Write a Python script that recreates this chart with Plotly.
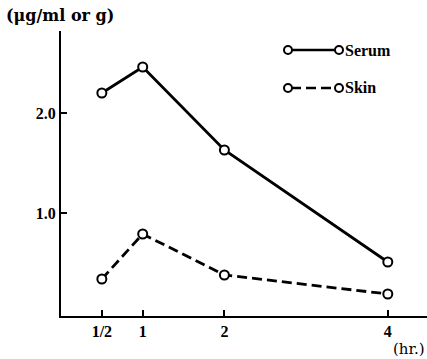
import plotly.graph_objects as go

hours = [0.5, 1, 2, 4]
serum = [2.20, 2.46, 1.63, 0.51]
skin = [0.34, 0.79, 0.38, 0.19]
x_tick_vals = [0.5, 1, 2, 4]
x_tick_text = ["1/2", "1", "2", "4"]
y_tick_vals = [1.0, 2.0, 2.82]
y_tick_text = ["1.0", "2.0", ""]

FONT = "Liberation Serif"
TFONT = "DejaVu Serif"
W, H = 427, 359
L, R, T, B = 61, 0, 31, 43
PW, PH = W - L - R, H - T - B

marker = dict(symbol="circle", size=9, color="white", line=dict(color="black", width=2))

fig = go.Figure()
fig.add_trace(go.Scatter(x=hours, y=serum, mode="lines+markers",
                         line=dict(color="black", width=2.8), marker=marker, showlegend=False))
fig.add_trace(go.Scatter(x=hours, y=skin, mode="lines+markers",
                         line=dict(color="black", width=2.8, dash="10px,5px"), marker=marker, showlegend=False))


def px_x(px):
    return (px - L) / PW


def px_y(py):
    return (H - B - py) / PH


# custom legend samples
for py, dash, label in [(50, "solid", "Serum"), (88, "10px,5px", "Skin")]:
    fig.add_shape(type="line", xref="paper", yref="paper", x0=px_x(291), x1=px_x(335),
                  y0=px_y(py), y1=px_y(py), line=dict(color="black", width=2.5, dash=dash))
    for cx in (288, 339):
        fig.add_shape(type="circle", xref="paper", yref="paper",
                      x0=px_x(cx - 4), x1=px_x(cx + 4), y0=px_y(py + 4), y1=px_y(py - 4),
                      fillcolor="white", line=dict(color="black", width=2))
    fig.add_annotation(xref="paper", yref="paper", x=px_x(343), y=px_y(py), text=label,
                       showarrow=False, xanchor="left", yanchor="middle",
                       font=dict(family=FONT, size=16, color="black", weight="bold"))

fig.add_annotation(xref="paper", yref="paper", x=px_x(4), y=px_y(15), text="(μg/ml or g)",
                   showarrow=False, xanchor="left", yanchor="middle",
                   font=dict(family=TFONT, size=16, color="black", weight="bold"))
fig.add_annotation(xref="paper", yref="paper", x=px_x(427), y=px_y(349), text="(hr.)",
                   showarrow=False, xanchor="right", yanchor="middle",
                   font=dict(family=TFONT, size=15, color="black"))

axis_common = dict(ticks="inside", ticklen=6, tickwidth=1.5, tickcolor="black",
                   showline=True, linecolor="black", linewidth=2, showgrid=False, zeroline=False,
                   tickfont=dict(family=FONT, size=16, color="black", weight="bold"))

fig.update_layout(
    width=W, height=H,
    margin=dict(l=L, r=R, t=T, b=B),
    plot_bgcolor="white", paper_bgcolor="white",
    xaxis=dict(range=[0, 4.48], tickvals=x_tick_vals, ticktext=x_tick_text, **axis_common),
    yaxis=dict(range=[-0.03, 2.82], tickvals=y_tick_vals, ticktext=y_tick_text, **axis_common),
)

fig.write_html("out.html", config={"displayModeBar": False},
               post_script="document.body.style.margin='0px';")
